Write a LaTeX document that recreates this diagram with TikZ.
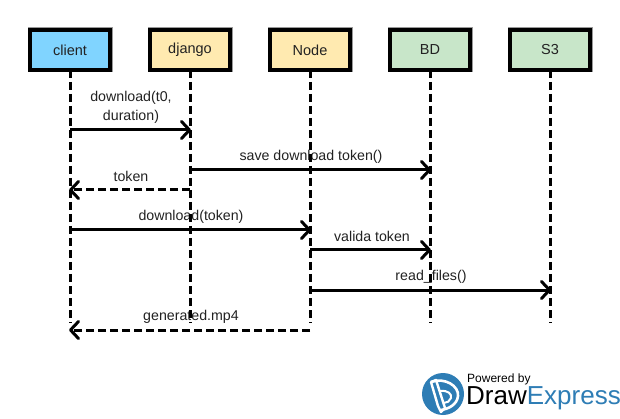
\documentclass[tikz,border=0pt]{standalone}
\usepackage{fontspec}
\setmainfont{Liberation Sans}
\usetikzlibrary{arrows.meta}
\definecolor{cblue}{HTML}{80D4FF}
\definecolor{cyel}{HTML}{FFEAB0}
\definecolor{cgrn}{HTML}{C8E6C9}
\definecolor{logob}{HTML}{2E7DB5}
\definecolor{txt}{HTML}{222222}
\tikzset{
  x=1pt,y=-1pt,
  actor/.style={draw=black,line width=3.4pt,minimum width=80pt,minimum height=40pt,inner sep=0pt,outer sep=0pt,font=\fontsize{14.5}{16}\selectfont,text=txt,
    preaction={draw=black!40,line width=5pt}},
  life/.style={line width=3pt,dash pattern=on 8pt off 4pt},
  msg/.style={line width=3pt,-{Straight Barb[length=8pt,width=17pt,line width=3pt,round]}},
  ret/.style={msg,dash pattern=on 8pt off 4pt},
  lab/.style={font=\fontsize{14.2}{19}\selectfont,text=txt,inner sep=0pt,align=center}
}
\begin{document}
\begin{tikzpicture}
\useasboundingbox (0,0) rectangle (620,419);
\fill[white] (0,0) rectangle (620,419);
\node[actor,fill=cblue] (client) at (70,50) {client};
\node[actor,fill=cyel] (django) at (190,50) {django};
\node[actor,fill=cyel] (nodejs) at (310,50) {Node};
\node[actor,fill=cgrn] (bd) at (430,50) {BD};
\node[actor,fill=cgrn] (sthree) at (550,50) {S3};
\coordinate (clientEnd) at (70,323);
\coordinate (djangoEnd) at (190,323);
\coordinate (nodeEnd) at (310,323);
\coordinate (bdEnd) at (430,323);
\coordinate (sEnd) at (550,323);
% message ends on the lifelines
\coordinate (c1) at (70,130); \coordinate (d1) at (191,130);
\coordinate (d2) at (190,170); \coordinate (b2) at (431,170);
\coordinate (d3) at (190,190); \coordinate (c3) at (69,190);
\coordinate (c4) at (70,230); \coordinate (n4) at (311,230);
\coordinate (n5) at (310,250); \coordinate (b5) at (431,250);
\coordinate (n6) at (310,290); \coordinate (s6) at (551,290);
\coordinate (n7) at (310,330); \coordinate (c7) at (69,330);
% labels
\node[lab] (l1) at (131,107) {download(t0,\\duration)};
\node[lab] (l2) at (311,157) {save download token()};
\node[lab] (l3) at (131,176) {token};
\node[lab] (l4) at (191,216.5) {download(token)};
\node[lab] (l5) at (372,236) {valida token};
\node[lab] (l6) at (431,276.5) {read\_files()};
\node[lab] (l7) at (191,316.5) {generated.mp4};
% lifelines
\draw[life] (client.south) -- (clientEnd);
\draw[life] (django.south) -- (djangoEnd);
\draw[life] (nodejs.south) -- (nodeEnd);
\draw[life] (bd.south) -- (bdEnd);
\draw[life] (sthree.south) -- (sEnd);
% messages
\draw[msg] (c1) -- (d1);
\draw[msg] (d2) -- (b2);
\draw[ret] (d3) -- (c3);
\draw[msg] (c4) -- (n4);
\draw[msg] (n5) -- (b5);
\draw[msg] (n6) -- (s6);
\draw[ret] (n7) -- (c7);
% logo
\fill[logob] (443,394) circle (21);
\draw[white,line width=2.6pt,line join=round] (431,382) .. controls (445,377) and (459,386) .. (458,396) .. controls (457,405) and (448,409) .. (441,410);
\draw[white,line width=2.4pt,line join=round] (431,382) -- (436,380) -- (445,408) -- (441,412) -- (438,406) -- cycle;
\draw[white,line width=2pt] (440,391) .. controls (448,390) and (452,394) .. (451,398) .. controls (450,401) and (447,403) .. (444,403);
\node[anchor=base west,inner sep=0pt,font=\fontsize{12}{14}\selectfont,text=black] (powered) at (467,382) {Powered by};
\node[anchor=base west,inner sep=0pt,font=\fontsize{26}{28}\selectfont,text=black] (draw) at (466,404) {Draw\textcolor{logob}{Express}};
\end{tikzpicture}
\end{document}
